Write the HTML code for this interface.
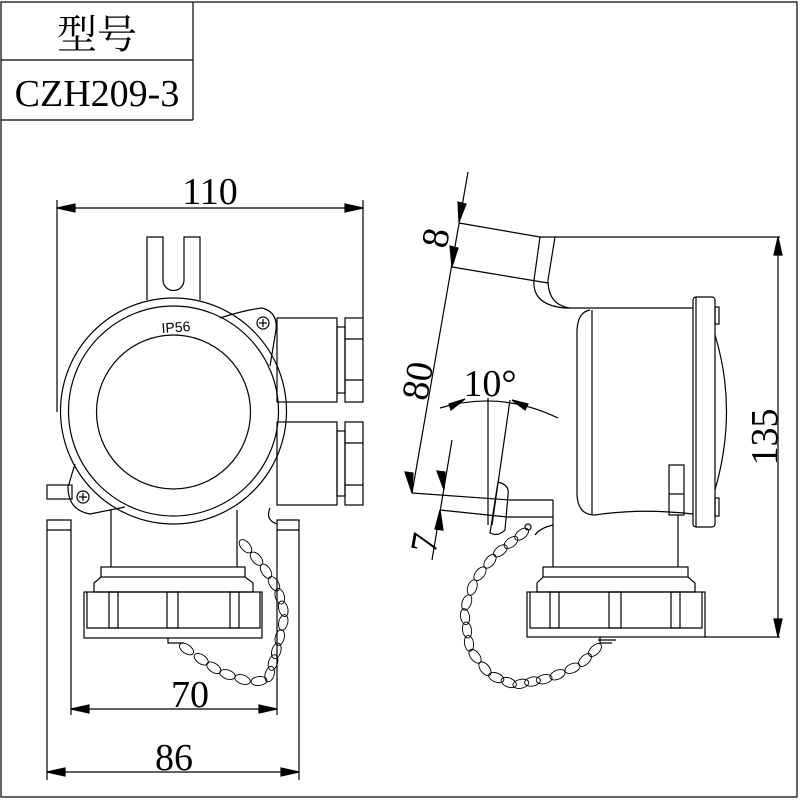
<!DOCTYPE html>
<html><head><meta charset="utf-8"><style>html,body{margin:0;padding:0;background:#fff}svg{display:block}</style></head>
<body>
<svg id="s" width="800" height="800" viewBox="0 0 800 800" xmlns="http://www.w3.org/2000/svg" fill="none" stroke="#000" stroke-width="1.2">
<!-- frame -->
<rect x="1" y="2" width="796" height="795"/>
<line x1="1" y1="120" x2="193" y2="120"/>
<line x1="1" y1="60" x2="193" y2="60"/>
<line x1="193" y1="2" x2="193" y2="120"/>
<text x="97" y="48" font-family="'Liberation Serif','Noto Serif CJK SC',serif" font-size="40" text-anchor="middle" fill="#000" stroke="none">型号</text>
<text x="97" y="106" font-family="'Liberation Serif',serif" font-size="38" text-anchor="middle" fill="#000" stroke="none">CZH209-3</text>

<g font-family="'Liberation Serif',serif" font-size="38" fill="#000" stroke="none" text-anchor="middle">
<text x="210" y="204">110</text>
<text x="190" y="707">70</text>
<text x="174" y="770">86</text>
<text x="490" y="396">10°</text>
<text transform="translate(448,240) rotate(-80)">8</text>
<text transform="translate(430,383) rotate(-80)">80</text>
<text transform="translate(437,545) rotate(-80)">7</text>
<text transform="translate(777,437) rotate(-90)">135</text>
</g>

<!-- LEFT VIEW dims -->
<line x1="57" y1="208" x2="363" y2="208"/>
<path d="M57 208 l18 -4 v8z M363 208 l-18 -4 v8z" fill="#000"/>
<line x1="57" y1="200" x2="57" y2="412"/>
<line x1="363" y1="200" x2="363" y2="318"/>
<line x1="71" y1="709" x2="277" y2="709"/>
<path d="M71 709 l18 -4 v8z M277 709 l-18 -4 v8z" fill="#000"/>
<line x1="47" y1="772" x2="299" y2="772"/>
<path d="M47 772 l18 -4 v8z M299 772 l-18 -4 v8z" fill="#000"/>

<!-- U bracket -->
<path d="M147 300 V237 H163 V280 A10.5 10.5 0 0 0 184 280 V237 H200 V300"/>
<!-- circles -->
<circle cx="173.5" cy="411" r="113"/>
<circle cx="173.5" cy="411" r="105"/>
<circle cx="173.5" cy="412" r="77"/>
<text x="176" y="332" font-family="'Liberation Sans',sans-serif" font-size="14" fill="#000" stroke="none" text-anchor="middle" transform="rotate(-4 176 328)">IP56</text>
<!-- ear top right -->
<path d="M220 318 Q245 310 262 308 Q278 312 276 330 L270 366"/>
<circle cx="263" cy="323" r="6"/><path d="M259 323 h8 M263 319 v8"/>
<!-- ear bottom left -->
<path d="M75 464 L68 487 Q68 510 90 514 L125 507"/>
<circle cx="83" cy="497" r="6"/><path d="M79 497 h8 M83 493 v8"/>
<rect x="47" y="485" width="25" height="14"/>
<!-- glands -->
<rect x="277" y="318" width="60" height="84"/>
<rect x="337" y="327" width="8" height="66"/>
<rect x="345" y="318" width="18" height="84"/>
<path d="M345 339 h18 M345 380 h18"/>
<rect x="277" y="422" width="60" height="83"/>
<rect x="337" y="431" width="8" height="65"/>
<rect x="345" y="422" width="18" height="83"/>
<path d="M345 443 h18 M345 485 h18"/>
<!-- plates -->
<path d="M47 520 h24 v10 h-24z M47 520 V780 M71 520 V715"/>
<path d="M277 520 h22 v10 h-22z M299 520 V780 M277 520 V715"/>
<path d="M270 508 Q265 520 277 524"/>
<!-- neck & nut left -->
<path d="M111 510 V567 M237 510 V567"/>
<rect x="101" y="567" width="144" height="10"/>
<path d="M101 577 L94 583 V592 H253 V583 L245 577"/>
<rect x="84" y="592" width="178" height="46"/>
<path d="M87 592 V628 H260 V592"/>
<rect x="109" y="592" width="9" height="36"/><rect x="167" y="592" width="11" height="36"/><rect x="230" y="592" width="9" height="36"/>
<path d="M168 638 v5 h14 M172 643 h12"/>

<!-- RIGHT VIEW -->
<line x1="468" y1="172" x2="412" y2="493"/>
<line x1="452" y1="440" x2="432" y2="560"/>
<path d="M459 222 l-1 -20 l8 2z M452 267 l6 -19 l-8 -2z M412 493 l1 -20 l-8 -1z M440 510 l-5 19 l8 1z M444 490 l1 -18 l-8 -1z" fill="#000"/>
<line x1="459" y1="223" x2="540" y2="237"/>
<line x1="452" y1="267" x2="548" y2="283"/>
<line x1="412" y1="493" x2="510" y2="500"/>
<line x1="440" y1="510" x2="507" y2="517"/>
<path d="M440 408 Q500 390 558 418"/>
<path d="M465 399 l-16 5 l2 6z M512 400 l16 4 l-3 6z" fill="#000"/>
<line x1="488" y1="398" x2="488" y2="525"/>
<line x1="510" y1="400" x2="492" y2="525"/>
<path d="M498 482 Q510 485 508 495 L505 530 Q498 537 490 533 Z"/>
<!-- top -->
<line x1="540" y1="237" x2="780" y2="237"/>
<line x1="778" y1="237" x2="778" y2="637"/>
<path d="M778 237 l-4 18 h8z M778 637 l-4 -18 h8z" fill="#000"/>
<line x1="705" y1="637" x2="780" y2="637"/>
<path d="M540 237 L534 280 Q532 305 565 308 H578 M555 237 L548 280 Q548 305 570 308 H693"/>
<!-- body -->
<path d="M590 310 Q578 312 577 330 V495 Q578 515 595 515 Q640 508 693 514"/>
<line x1="592" y1="310" x2="592" y2="514"/>
<rect x="693" y="297" width="22" height="230" rx="3"/>
<line x1="696" y1="297" x2="696" y2="527"/>
<rect x="715" y="307" width="4" height="17"/><rect x="715" y="498" width="4" height="18"/>
<path d="M715 335 Q738 410 715 490"/>
<rect x="669" y="465" width="15" height="50"/><line x1="669" y1="494" x2="684" y2="494"/>
<!-- lower right -->
<path d="M510 500 H553 M507 517 H553 M553 500 V567 M678 515 V567 M553 525 Q540 528 535 535"/>
<rect x="543" y="567" width="145" height="10"/>
<path d="M543 577 L537 583 V592 H695 V583 L688 577"/>
<rect x="527" y="592" width="178" height="45"/>
<path d="M530 592 V628 H702 V592"/>
<rect x="550" y="592" width="9" height="36"/><rect x="609" y="592" width="12" height="36"/><rect x="671" y="592" width="9" height="36"/>
<path d="M600 637 v6 h12 M598 640 h18"/>
<circle cx="528" cy="527" r="3"/>
<g id="chains" stroke-width="0.9"></g>
</svg>
<script>
function chain(pts){
  var g=document.getElementById('chains'),ns='http://www.w3.org/2000/svg';
  for(var i=0;i<pts.length-1;i++){
    var a=pts[i],b=pts[i+1],dx=b[0]-a[0],dy=b[1]-a[1],L=Math.hypot(dx,dy),n=Math.max(1,Math.round(L/14));
    for(var k=0;k<n;k++){
      var t=(k+0.5)/n,x=a[0]+dx*t,y=a[1]+dy*t,ang=Math.atan2(dy,dx)*180/Math.PI;
      var e=document.createElementNS(ns,'ellipse');
      e.setAttribute('cx',x);e.setAttribute('cy',y);e.setAttribute('rx',8);e.setAttribute('ry',4.5);
      e.setAttribute('transform','rotate('+ang+' '+x+' '+y+')');g.appendChild(e);
    }
  }
}
chain([[240,540],[262,565],[278,590],[285,615],[278,645],[268,680],[250,682],[220,672],[195,655],[178,643]]);
chain([[527,530],[495,555],[475,580],[464,610],[470,650],[490,675],[515,685],[550,678],[580,665],[600,645]]);
</script>
</body></html>
